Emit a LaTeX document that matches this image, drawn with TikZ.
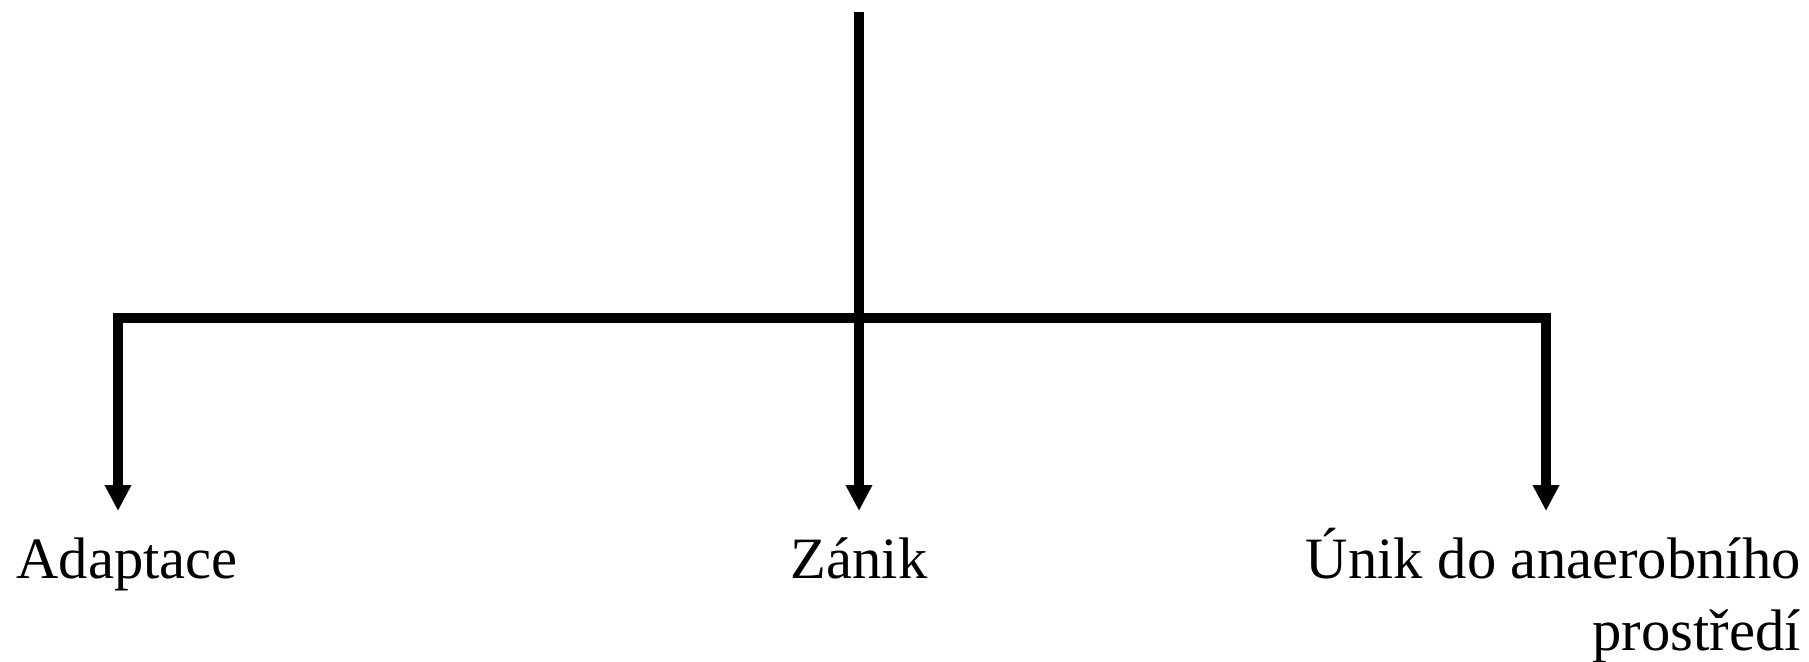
\documentclass[tikz,border=0pt]{standalone}
\usepackage{fontspec}
\setmainfont{Liberation Serif}
\usepackage{tikz}
\usetikzlibrary{arrows.meta}
\tikzset{
  >={Triangle[length=13pt,width=12.5pt]},
  branch/.style={line width=4.8pt,draw=black,line join=miter},
  flow/.style={branch,->},
  outcome/.style={inner sep=0pt,font=\fontsize{29.3}{36}\selectfont}
}
\begin{document}
\begin{tikzpicture}[x=0.5pt,y=-0.5pt]
  \useasboundingbox (0,0) rectangle (1809,662);
  % branching points
  \coordinate (src) at (859,12);
  \coordinate (hub) at (859,318);
  \coordinate (left) at (118,318);
  \coordinate (right) at (1546,318);
  \coordinate (tipA) at (118,511);
  \coordinate (tipZ) at (859,511);
  \coordinate (tipU) at (1546,511);
  % outcomes
  \node[outcome,anchor=base west] (adapt) at (16,578) {Adaptace};
  \node[outcome,anchor=base] (zanik) at (859,578) {Zánik};
  \node[outcome,anchor=base east] (unik) at (1801,578) {Únik do anaerobního};
  \node[outcome,anchor=base east] (prostr) at (1801,650) {prostředí};
  \draw[flow] (src) -- (tipZ);
  \draw[flow] (hub) -- (left) -- (tipA);
  \draw[flow] (hub) -- (right) -- (tipU);
\end{tikzpicture}
\end{document}
